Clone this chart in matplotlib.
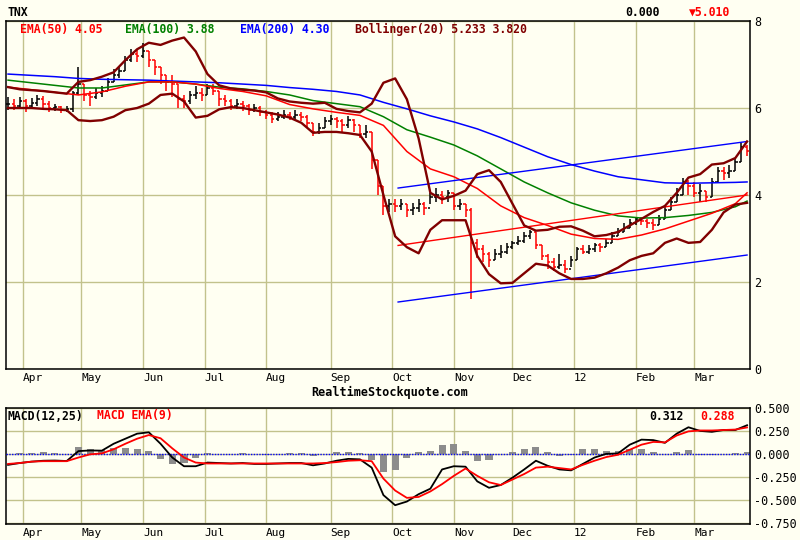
import numpy as np
import matplotlib
matplotlib.use('Agg')
import matplotlib.pyplot as plt

# ---------------- data ----------------
# OHLC-style bars, one every 2 trading days (open = previous close)
close = [6.10, 6.05, 6.15, 6.05, 6.12, 6.20, 6.10, 6.00, 6.02, 5.95,
         5.98, 6.35, 6.55, 6.30, 6.25, 6.35, 6.40, 6.60, 6.75, 6.85,
         7.10, 7.25, 7.20, 7.30, 7.10, 6.95, 6.75, 6.60, 6.55, 6.20,
         6.15, 6.30, 6.35, 6.30, 6.45, 6.40, 6.20, 6.15, 6.05, 6.10,
         6.05, 5.95, 6.00, 5.90, 5.85, 5.75, 5.80, 5.85, 5.80, 5.85,
         5.80, 5.65, 5.45, 5.55, 5.70, 5.75, 5.70, 5.60, 5.72, 5.60,
         5.40, 5.45, 4.80, 4.20, 3.75, 3.80, 3.75, 3.80, 3.65, 3.70,
         3.80, 3.70, 3.95, 4.00, 3.95, 4.05, 3.75, 3.80, 3.65, 2.90,
         2.75, 2.65, 2.50, 2.65, 2.70, 2.80, 2.90, 2.95, 3.05, 3.15,
         2.85, 2.60, 2.45, 2.35, 2.40, 2.30, 2.50, 2.75, 2.70, 2.75,
         2.85, 2.80, 2.90, 3.05, 3.15, 3.25, 3.35, 3.45, 3.40, 3.35,
         3.30, 3.45, 3.65, 3.85, 4.00, 4.30, 4.20, 4.05, 4.10, 3.95,
         4.30, 4.55, 4.50, 4.55, 4.75, 5.10, 5.01]
high = [6.25, 6.20, 6.25, 6.20, 6.22, 6.30, 6.28, 6.15, 6.10, 6.05,
        6.05, 6.40, 6.95, 6.55, 6.40, 6.45, 6.50, 6.70, 6.90, 6.95,
        7.20, 7.35, 7.35, 7.50, 7.30, 7.10, 6.95, 6.75, 6.75, 6.55,
        6.30, 6.40, 6.50, 6.45, 6.55, 6.55, 6.40, 6.30, 6.20, 6.20,
        6.15, 6.10, 6.10, 6.05, 5.95, 5.90, 5.90, 5.95, 5.90, 5.95,
        5.90, 5.85, 5.65, 5.65, 5.80, 5.85, 5.80, 5.75, 5.82, 5.75,
        5.60, 5.60, 5.45, 4.80, 4.20, 3.90, 3.90, 3.90, 3.80, 3.82,
        3.90, 3.85, 4.05, 4.15, 4.10, 4.12, 4.05, 3.90, 3.80, 3.70,
        3.00, 2.85, 2.70, 2.75, 2.85, 2.90, 2.95, 3.05, 3.15, 3.20,
        3.15, 2.85, 2.65, 2.55, 2.65, 2.50, 2.60, 2.80, 2.85, 2.85,
        2.90, 2.90, 3.00, 3.15, 3.25, 3.35, 3.45, 3.50, 3.50, 3.45,
        3.45, 3.55, 3.75, 3.95, 4.15, 4.40, 4.35, 4.30, 4.25, 4.10,
        4.40, 4.65, 4.65, 4.70, 4.85, 5.20, 5.15]
low = [5.95, 5.95, 6.00, 5.90, 5.98, 6.05, 6.00, 5.90, 5.92, 5.88,
       5.90, 5.90, 6.30, 6.15, 6.05, 6.20, 6.25, 6.40, 6.60, 6.70,
       6.85, 7.05, 7.05, 7.15, 6.95, 6.75, 6.55, 6.40, 6.25, 6.00,
       6.00, 6.10, 6.20, 6.15, 6.30, 6.30, 6.05, 6.05, 5.95, 5.98,
       5.92, 5.85, 5.90, 5.82, 5.75, 5.65, 5.70, 5.75, 5.72, 5.75,
       5.70, 5.55, 5.35, 5.40, 5.55, 5.60, 5.55, 5.45, 5.55, 5.45,
       5.30, 5.30, 4.60, 4.00, 3.55, 3.60, 3.60, 3.65, 3.50, 3.55,
       3.60, 3.55, 3.80, 3.85, 3.80, 3.85, 3.65, 3.65, 3.50, 1.60,
       2.55, 2.45, 2.35, 2.50, 2.55, 2.65, 2.75, 2.85, 2.90, 3.00,
       2.75, 2.50, 2.30, 2.25, 2.30, 2.20, 2.35, 2.50, 2.65, 2.65,
       2.70, 2.70, 2.80, 2.90, 3.05, 3.15, 3.25, 3.30, 3.30, 3.25,
       3.20, 3.30, 3.45, 3.65, 3.85, 4.00, 4.00, 3.95, 3.85, 3.85,
       3.95, 4.30, 4.35, 4.40, 4.55, 4.75, 4.90]

# EMAs sampled every 8 trading days (last point = last day)
ema50 = [6.48, 6.42, 6.36, 6.30, 6.37, 6.50, 6.60, 6.60, 6.55, 6.45,
         6.38, 6.28, 6.08, 5.98, 5.90, 5.83, 5.60, 5.00, 4.60, 4.42,
         4.15, 3.75, 3.48, 3.30, 3.10, 3.00, 2.98, 3.08, 3.22, 3.40,
         3.58, 3.80, 4.05]
ema100 = [6.64, 6.58, 6.52, 6.46, 6.46, 6.53, 6.60, 6.60, 6.55, 6.48,
          6.44, 6.38, 6.30, 6.17, 6.10, 6.03, 5.80, 5.50, 5.33, 5.15,
          4.90, 4.60, 4.30, 4.05, 3.82, 3.65, 3.52, 3.47, 3.48, 3.53,
          3.60, 3.73, 3.86]
ema200 = [6.78, 6.75, 6.72, 6.68, 6.66, 6.65, 6.64, 6.62, 6.60, 6.58,
          6.55, 6.52, 6.47, 6.43, 6.38, 6.30, 6.13, 5.98, 5.82, 5.68,
          5.52, 5.32, 5.10, 4.88, 4.70, 4.55, 4.42, 4.35, 4.28, 4.27,
          4.28, 4.29, 4.30]

# Bollinger bands sampled every 4 trading days
bb_upper = [6.48, 6.43, 6.41, 6.39, 6.36, 6.33, 6.60, 6.64, 6.72, 6.82,
            7.10, 7.35, 7.50, 7.45, 7.55, 7.62, 7.30, 6.78, 6.52, 6.45,
            6.42, 6.40, 6.36, 6.22, 6.15, 6.12, 6.10, 6.12, 5.98, 5.93,
            5.90, 6.10, 6.58, 6.68, 6.20, 5.30, 4.05, 3.90, 3.98, 4.10,
            4.48, 4.57, 4.30, 3.80, 3.30, 3.18, 3.20, 3.27, 3.28, 3.18,
            3.05, 3.08, 3.15, 3.30, 3.45, 3.61, 3.75, 4.05, 4.40, 4.48,
            4.70, 4.73, 4.85, 5.23]
bb_lower = [6.00, 6.00, 6.00, 5.98, 5.97, 5.95, 5.72, 5.70, 5.72, 5.80,
            5.95, 6.00, 6.10, 6.30, 6.33, 6.15, 5.78, 5.82, 5.97, 6.02,
            6.00, 5.95, 5.90, 5.85, 5.78, 5.66, 5.43, 5.45, 5.45, 5.42,
            5.38, 5.00, 4.00, 3.05, 2.80, 2.66, 3.20, 3.42, 3.42, 3.42,
            2.60, 2.18, 1.97, 1.98, 2.20, 2.42, 2.38, 2.20, 2.07, 2.07,
            2.10, 2.20, 2.33, 2.50, 2.60, 2.66, 2.90, 3.00, 2.90, 2.92,
            3.20, 3.60, 3.78, 3.82]

# trend channel (start day, end day)
chan_days = [133, 252]
chan_upper = [4.16, 5.23]
chan_mid = [2.84, 4.00]
chan_lower = [1.54, 2.62]

# MACD panel, sampled every 4 trading days
macd = [-0.12, -0.10, -0.085, -0.075, -0.073, -0.078, 0.03, 0.037, 0.035, 0.11,
        0.165, 0.22, 0.235, 0.11, -0.04, -0.135, -0.135, -0.095, -0.10, -0.105,
        -0.10, -0.11, -0.11, -0.105, -0.10, -0.10, -0.125, -0.105, -0.075, -0.055,
        -0.06, -0.15, -0.45, -0.56, -0.52, -0.44, -0.38, -0.17, -0.135, -0.14,
        -0.30, -0.37, -0.34, -0.26, -0.17, -0.075, -0.13, -0.17, -0.18, -0.11,
        -0.04, 0.0, 0.005, 0.10, 0.155, 0.15, 0.12, 0.22, 0.29, 0.25,
        0.24, 0.26, 0.26, 0.312]
signal = [-0.11, -0.10, -0.085, -0.08, -0.08, -0.08, -0.04, -0.005, 0.005, 0.05,
          0.11, 0.165, 0.205, 0.17, 0.06, -0.04, -0.095, -0.105, -0.105, -0.105,
          -0.105, -0.105, -0.105, -0.105, -0.105, -0.105, -0.105, -0.10, -0.09, -0.075,
          -0.07, -0.08, -0.27, -0.40, -0.48, -0.47, -0.41, -0.33, -0.24, -0.16,
          -0.24, -0.31, -0.34, -0.28, -0.22, -0.15, -0.14, -0.155, -0.17, -0.12,
          -0.075, -0.035, -0.01, 0.045, 0.10, 0.13, 0.125, 0.20, 0.245, 0.255,
          0.255, 0.26, 0.265, 0.288]
hist = [0.0, 0.01, 0.01, 0.015, 0.01, 0.0, 0.08, 0.05, 0.04, 0.06,
        0.06, 0.055, 0.03, -0.06, -0.11, -0.10, -0.05, 0.01, 0.0, -0.005,
        0.005, -0.005, -0.01, 0.0, 0.005, 0.005, -0.02, 0.0, 0.02, 0.02,
        0.01, -0.07, -0.20, -0.18, -0.05, 0.02, 0.03, 0.10, 0.11, 0.03,
        -0.08, -0.07, -0.005, 0.02, 0.05, 0.075, 0.02, -0.02, -0.01, 0.05,
        0.055, 0.035, 0.03, 0.055, 0.055, 0.02, -0.005, 0.02, 0.045, -0.01,
        -0.015, 0.0, 0.005, 0.02]

month_labels = ['Apr', 'May', 'Jun', 'Jul', 'Aug', 'Sep', 'Oct', 'Nov', 'Dec', '12', 'Feb', 'Mar']
month_days = [5, 25, 46, 67, 88, 110, 131, 152, 172, 193, 214, 234]

# ---------------- style ----------------
BG = '#FFFFF2'
GRID = '#C2C28C'
MAROON = '#800000'
MONO = ['DejaVu Sans Mono', 'DejaVu Sans']

fig = plt.figure(figsize=(8, 5.4), dpi=100, facecolor=BG)
ax = fig.add_axes([6/800, 1-369/540, 744/800, 348/540], facecolor=BG)
ax2 = fig.add_axes([6/800, 1-524/540, 744/800, 116/540], facecolor=BG)

for a in (ax, ax2):
    a.set_xlim(-0.7, 253)
    a.set_axisbelow(True)
    a.grid(True, color=GRID, lw=1.0)
    for s in a.spines.values():
        s.set_color('black')
        s.set_linewidth(1.1)
    a.yaxis.tick_right()
    a.tick_params(length=0, labelsize=8, pad=3, colors='black')
    a.set_xticks(month_days)
    a.set_xticklabels(month_labels, ha='left', family=MONO, fontsize=8)
    for lab in a.get_yticklabels():
        lab.set_family(MONO)

# ---------------- price panel ----------------
close_a = np.array(close)
n = len(close_a)
days = np.arange(n) * 2
opens = np.r_[close_a[0], close_a[:-1]]
cols = np.where(close_a >= opens, 'black', '#FF0000')
ax.vlines(days, low, high, colors=cols, lw=1.1, zorder=3)
ax.hlines(opens, days - 0.8, days, colors=cols, lw=1.1, zorder=3)
ax.hlines(close_a, days, days + 0.8, colors=cols, lw=1.1, zorder=3)

ema_days = np.r_[np.arange(0, 249, 8), 252]
ax.plot(ema_days, ema200, color='#0000FF', lw=1.1, zorder=4)
ax.plot(ema_days, ema100, color='#008000', lw=1.1, zorder=4)
ax.plot(ema_days, ema50, color='#FF0000', lw=1.1, zorder=4)

bb_days = np.arange(0, 253, 4)
ax.plot(bb_days, bb_upper, color=MAROON, lw=1.7, zorder=5)
ax.plot(bb_days, bb_lower, color=MAROON, lw=1.7, zorder=5)

ax.plot(chan_days, chan_upper, color='#0000FF', lw=1.0, zorder=4)
ax.plot(chan_days, chan_mid, color='#FF0000', lw=1.0, zorder=4)
ax.plot(chan_days, chan_lower, color='#0000FF', lw=1.0, zorder=4)

ax.set_ylim(0, 8)
ax.set_yticks([0, 2, 4, 6, 8])
ax.set_yticklabels(['0', '2', '4', '6', '8'], family=MONO, fontsize=8.5)

# ---------------- MACD panel ----------------
ax2.bar(bb_days, hist, width=2.4, color='#8C8C8C', zorder=2)
ax2.axhline(0, color='#0000FF', ls=(0, (1, 1)), lw=1.0, zorder=3)
ax2.plot(bb_days, macd, color='black', lw=1.3, zorder=4)
ax2.plot(bb_days, signal, color='#FF0000', lw=1.3, zorder=5)
ax2.set_ylim(-0.765, 0.5)
mt = [0.5, 0.25, 0.0, -0.25, -0.5, -0.75]
ax2.set_yticks(mt)
ax2.set_yticklabels(['%.3f' % v for v in mt], family=MONO, fontsize=8.5)

# ---------------- texts ----------------
def ftext(x, y, s, color='black', ha='left', weight='bold', size=8.3):
    fig.text(x/800, 1 - y/540, s, color=color, ha=ha, va='center',
             family=MONO, fontsize=size, fontweight=weight)

ftext(8, 12, 'TNX')
ftext(625, 12, '0.000')
ftext(689, 12, '\u25bc5.010', color='#FF0000')
ftext(20, 29, 'EMA(50) 4.05', color='#FF0000')
ftext(125, 29, 'EMA(100) 3.88', color='#008000')
ftext(240, 29, 'EMA(200) 4.30', color='#0000FF')
ftext(355, 29, 'Bollinger(20) 5.233 3.820', color=MAROON)
ftext(390, 392, 'RealtimeStockquote.com', ha='center', size=8.5)
ftext(8, 416, 'MACD(12,25)')
ftext(97, 416, 'MACD EMA(9)', color='#FF0000')
ftext(684, 416, '0.312', ha='right')
ftext(735, 416, '0.288', color='#FF0000', ha='right')

fig.savefig('out.png', dpi=100, facecolor=BG)
